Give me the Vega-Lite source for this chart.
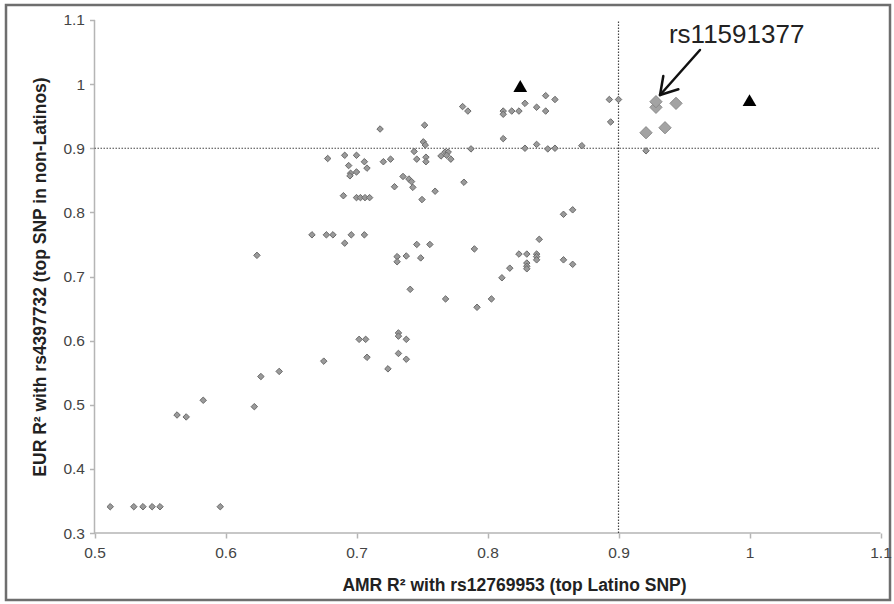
{
  "$schema": "https://vega.github.io/schema/vega-lite/v6.json",
  "width": 884,
  "height": 595,
  "autosize": {"type": "none"},
  "padding": {"left": 6, "top": 5, "right": 4, "bottom": 4},
  "background": "white",
  "config": {"view": {"stroke": "#6e6e6e", "strokeWidth": 2.5}, "font": "Liberation Sans"},
  "datasets": {
    "refs": [
      {"x": 0.9, "x2": 0.9, "y": 0.3, "y2": 1.1, "k": "ref"},
      {"x": 0.5, "x2": 1.1, "y": 0.9, "y2": 0.9, "k": "ref"},
      {"x": 0.5, "x2": 1.1, "y": 0.3, "y2": 0.3, "k": "axis"},
      {"x": 0.5, "x2": 0.5, "y": 0.3, "y2": 1.1, "k": "axis"}
    ],
    "arrow": [
      {"x": 0.9622, "y": 1.0532, "x2": 0.9317, "y2": 0.983},
      {"x": 0.9342, "y": 1.0127, "x2": 0.9317, "y2": 0.983},
      {"x": 0.9457, "y": 0.9919, "x2": 0.9317, "y2": 0.983}
    ],
    "labels": [
      {"x": 0.9902, "y": 1.0637, "label": "rs11591377"}
    ],
    "pts": [
      {"x": 0.512, "y": 0.341, "t": "s"},
      {"x": 0.530, "y": 0.341, "t": "s"},
      {"x": 0.537, "y": 0.341, "t": "s"},
      {"x": 0.544, "y": 0.341, "t": "s"},
      {"x": 0.550, "y": 0.341, "t": "s"},
      {"x": 0.596, "y": 0.341, "t": "s"},
      {"x": 0.563, "y": 0.484, "t": "s"},
      {"x": 0.570, "y": 0.481, "t": "s"},
      {"x": 0.583, "y": 0.507, "t": "s"},
      {"x": 0.622, "y": 0.497, "t": "s"},
      {"x": 0.627, "y": 0.544, "t": "s"},
      {"x": 0.641, "y": 0.552, "t": "s"},
      {"x": 0.624, "y": 0.733, "t": "s"},
      {"x": 0.666, "y": 0.765, "t": "s"},
      {"x": 0.677, "y": 0.765, "t": "s"},
      {"x": 0.682, "y": 0.765, "t": "s"},
      {"x": 0.691, "y": 0.752, "t": "s"},
      {"x": 0.696, "y": 0.765, "t": "s"},
      {"x": 0.706, "y": 0.765, "t": "s"},
      {"x": 0.675, "y": 0.568, "t": "s"},
      {"x": 0.702, "y": 0.602, "t": "s"},
      {"x": 0.707, "y": 0.602, "t": "s"},
      {"x": 0.708, "y": 0.574, "t": "s"},
      {"x": 0.724, "y": 0.556, "t": "s"},
      {"x": 0.732, "y": 0.612, "t": "s"},
      {"x": 0.732, "y": 0.607, "t": "s"},
      {"x": 0.738, "y": 0.602, "t": "s"},
      {"x": 0.732, "y": 0.580, "t": "s"},
      {"x": 0.738, "y": 0.571, "t": "s"},
      {"x": 0.741, "y": 0.680, "t": "s"},
      {"x": 0.768, "y": 0.665, "t": "s"},
      {"x": 0.792, "y": 0.652, "t": "s"},
      {"x": 0.803, "y": 0.665, "t": "s"},
      {"x": 0.811, "y": 0.698, "t": "s"},
      {"x": 0.817, "y": 0.713, "t": "s"},
      {"x": 0.824, "y": 0.735, "t": "s"},
      {"x": 0.830, "y": 0.735, "t": "s"},
      {"x": 0.830, "y": 0.721, "t": "s"},
      {"x": 0.830, "y": 0.716, "t": "s"},
      {"x": 0.830, "y": 0.712, "t": "s"},
      {"x": 0.8375, "y": 0.735, "t": "s"},
      {"x": 0.8375, "y": 0.731, "t": "s"},
      {"x": 0.8375, "y": 0.726, "t": "s"},
      {"x": 0.8395, "y": 0.758, "t": "s"},
      {"x": 0.858, "y": 0.726, "t": "s"},
      {"x": 0.865, "y": 0.719, "t": "s"},
      {"x": 0.858, "y": 0.797, "t": "s"},
      {"x": 0.865, "y": 0.804, "t": "s"},
      {"x": 0.731, "y": 0.731, "t": "s"},
      {"x": 0.731, "y": 0.723, "t": "s"},
      {"x": 0.738, "y": 0.732, "t": "s"},
      {"x": 0.749, "y": 0.729, "t": "s"},
      {"x": 0.746, "y": 0.750, "t": "s"},
      {"x": 0.756, "y": 0.750, "t": "s"},
      {"x": 0.790, "y": 0.743, "t": "s"},
      {"x": 0.690, "y": 0.826, "t": "s"},
      {"x": 0.700, "y": 0.823, "t": "s"},
      {"x": 0.703, "y": 0.823, "t": "s"},
      {"x": 0.7065, "y": 0.823, "t": "s"},
      {"x": 0.710, "y": 0.823, "t": "s"},
      {"x": 0.729, "y": 0.840, "t": "s"},
      {"x": 0.7355, "y": 0.856, "t": "s"},
      {"x": 0.740, "y": 0.852, "t": "s"},
      {"x": 0.742, "y": 0.848, "t": "s"},
      {"x": 0.743, "y": 0.839, "t": "s"},
      {"x": 0.750, "y": 0.820, "t": "s"},
      {"x": 0.760, "y": 0.833, "t": "s"},
      {"x": 0.782, "y": 0.847, "t": "s"},
      {"x": 0.678, "y": 0.884, "t": "s"},
      {"x": 0.691, "y": 0.889, "t": "s"},
      {"x": 0.700, "y": 0.889, "t": "s"},
      {"x": 0.706, "y": 0.879, "t": "s"},
      {"x": 0.694, "y": 0.873, "t": "s"},
      {"x": 0.708, "y": 0.869, "t": "s"},
      {"x": 0.700, "y": 0.863, "t": "s"},
      {"x": 0.6955, "y": 0.861, "t": "s"},
      {"x": 0.695, "y": 0.857, "t": "s"},
      {"x": 0.7205, "y": 0.879, "t": "s"},
      {"x": 0.726, "y": 0.883, "t": "s"},
      {"x": 0.746, "y": 0.883, "t": "s"},
      {"x": 0.753, "y": 0.886, "t": "s"},
      {"x": 0.753, "y": 0.879, "t": "s"},
      {"x": 0.7645, "y": 0.888, "t": "s"},
      {"x": 0.7676, "y": 0.894, "t": "s"},
      {"x": 0.770, "y": 0.894, "t": "s"},
      {"x": 0.772, "y": 0.883, "t": "s"},
      {"x": 0.7688, "y": 0.889, "t": "s"},
      {"x": 0.744, "y": 0.895, "t": "s"},
      {"x": 0.751, "y": 0.910, "t": "s"},
      {"x": 0.7525, "y": 0.905, "t": "s"},
      {"x": 0.752, "y": 0.936, "t": "s"},
      {"x": 0.718, "y": 0.930, "t": "s"},
      {"x": 0.7874, "y": 0.899, "t": "s"},
      {"x": 0.812, "y": 0.915, "t": "s"},
      {"x": 0.8286, "y": 0.900, "t": "s"},
      {"x": 0.8375, "y": 0.906, "t": "s"},
      {"x": 0.846, "y": 0.899, "t": "s"},
      {"x": 0.8515, "y": 0.900, "t": "s"},
      {"x": 0.781, "y": 0.965, "t": "s"},
      {"x": 0.785, "y": 0.958, "t": "s"},
      {"x": 0.812, "y": 0.958, "t": "s"},
      {"x": 0.812, "y": 0.953, "t": "s"},
      {"x": 0.8185, "y": 0.958, "t": "s"},
      {"x": 0.824, "y": 0.958, "t": "s"},
      {"x": 0.8286, "y": 0.970, "t": "s"},
      {"x": 0.8375, "y": 0.964, "t": "s"},
      {"x": 0.8444, "y": 0.958, "t": "s"},
      {"x": 0.8444, "y": 0.982, "t": "s"},
      {"x": 0.8515, "y": 0.976, "t": "s"},
      {"x": 0.872, "y": 0.904, "t": "s"},
      {"x": 0.893, "y": 0.976, "t": "s"},
      {"x": 0.900, "y": 0.976, "t": "s"},
      {"x": 0.894, "y": 0.941, "t": "s"},
      {"x": 0.921, "y": 0.896, "t": "s"},
      {"x": 0.9286, "y": 0.9638, "t": "L"},
      {"x": 0.9286, "y": 0.9726, "t": "L"},
      {"x": 0.9439, "y": 0.970, "t": "L"},
      {"x": 0.921, "y": 0.9242, "t": "L"},
      {"x": 0.9355, "y": 0.932, "t": "L"},
      {"x": 0.825, "y": 0.997, "t": "T"},
      {"x": 1.0, "y": 0.975, "t": "T"}
    ]
  },
  "encoding": {
    "x": {
      "field": "x", "type": "quantitative",
      "scale": {"domain": [0.43244, 1.10725], "nice": false, "zero": false},
      "axis": {
        "title": "AMR R² with rs12769953 (top Latino SNP)",
        "values": [0.5, 0.6, 0.7, 0.8, 0.9, 1, 1.1],
        "format": "~g",
        "domain": false, "grid": false, "offset": -67,
        "tickSize": 5, "tickColor": "#b5b5b5", "tickWidth": 1.5,
        "labelFontSize": 15.5, "labelColor": "#444", "labelPadding": 7,
        "titleFontSize": 17.5, "titleFontWeight": "bold", "titleColor": "#222",
        "titleX": 508, "titleY": 57, "titleBaseline": "alphabetic"
      }
    },
    "y": {
      "field": "y", "type": "quantitative",
      "scale": {"domain": [0.19552, 1.12339], "nice": false, "zero": false},
      "axis": {
        "title": "EUR R² with rs4397732 (top SNP in non-Latinos)",
        "values": [0.3, 0.4, 0.5, 0.6, 0.7, 0.8, 0.9, 1, 1.1],
        "format": "~g",
        "domain": false, "grid": false, "offset": -88.5,
        "tickSize": 5, "tickColor": "#b5b5b5", "tickWidth": 1.5,
        "labelFontSize": 15.5, "labelColor": "#444", "labelPadding": 5,
        "titleFontSize": 17.5, "titleFontWeight": "bold", "titleColor": "#222",
        "titleX": -49.5, "titleY": 271.5, "titleBaseline": "alphabetic"
      }
    }
  },
  "layer": [
    {
      "data": {"name": "refs"},
      "transform": [{"filter": "datum.k == 'axis'"}],
      "mark": {"type": "rule", "color": "#b5b5b5", "strokeWidth": 1.5},
      "encoding": {"x2": {"field": "x2"}, "y2": {"field": "y2"}}
    },
    {
      "data": {"name": "refs"},
      "transform": [{"filter": "datum.k == 'ref'"}],
      "mark": {"type": "rule", "color": "#444", "strokeWidth": 1.2, "strokeDash": [1.5, 1.5]},
      "encoding": {"x2": {"field": "x2"}, "y2": {"field": "y2"}}
    },
    {
      "data": {"name": "pts"},
      "transform": [{"filter": "datum.t == 's'"}],
      "mark": {"type": "point", "shape": "diamond", "filled": true, "size": 42, "fill": "#9a9a9a", "stroke": "#6a6a6a", "strokeWidth": 1, "opacity": 1}
    },
    {
      "data": {"name": "pts"},
      "transform": [{"filter": "datum.t == 'L'"}],
      "mark": {"type": "point", "shape": "diamond", "filled": true, "size": 150, "fill": "#a3a3a3", "stroke": "#8a8a8a", "strokeWidth": 1, "opacity": 1}
    },
    {
      "data": {"name": "pts"},
      "transform": [{"filter": "datum.t == 'T'"}],
      "mark": {"type": "point", "shape": "triangle-up", "filled": true, "size": 190, "fill": "#000", "strokeWidth": 0, "opacity": 1}
    },
    {
      "data": {"name": "arrow"},
      "mark": {"type": "rule", "color": "#111", "strokeWidth": 2.5, "strokeCap": "round"},
      "encoding": {"x2": {"field": "x2"}, "y2": {"field": "y2"}}
    },
    {
      "data": {"name": "labels"},
      "mark": {"type": "text", "fontSize": 26, "align": "center", "baseline": "alphabetic", "color": "#222"},
      "encoding": {"text": {"field": "label"}}
    }
  ]
}
